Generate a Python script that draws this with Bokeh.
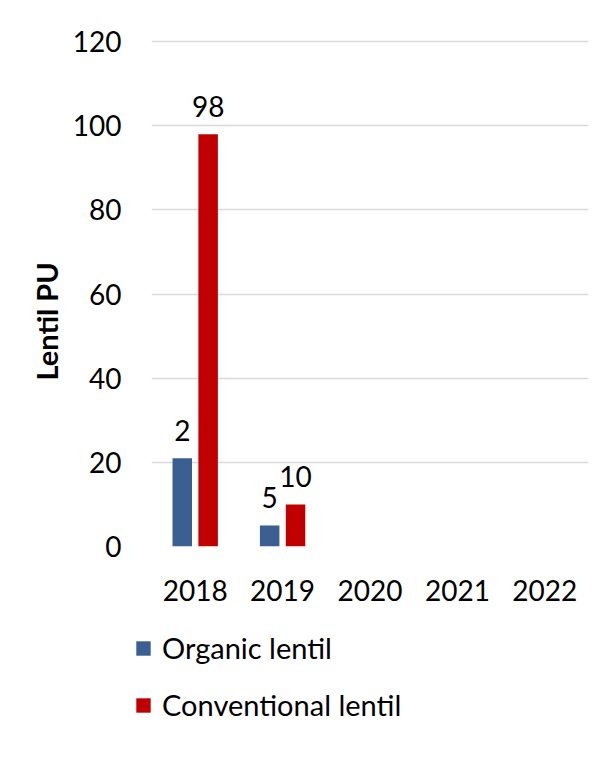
from bokeh.plotting import figure
from bokeh.models import ColumnDataSource, Legend, LegendItem, FactorRange, Title
from bokeh.layouts import column
from bokeh.transform import dodge
from bokeh.core.properties import value
from bokeh.embed import file_html
from bokeh.resources import INLINE

years = ["2018", "2019", "2020", "2021", "2022"]
organic = [21, 5, 0, 0, 0]
conventional = [98, 10, 0, 0, 0]
organic_labels = ["2", "5", "", "", ""]
conventional_labels = ["98", "10", "", "", ""]
series_names = ["Organic lentil", "Conventional lentil"]
y_ticks = [0, 20, 40, 60, 80, 100, 120]

BLUE = "#3A5F90"
RED = "#C00000"
FONT = "Lato"

src = ColumnDataSource(dict(years=years, organic=organic, conventional=conventional,
                            olab=organic_labels, clab=conventional_labels))

p = figure(x_range=FactorRange(*years), y_range=(0, 120.5), width=592, height=628,
           output_backend="svg", toolbar_location=None,
           min_border_left=151, min_border_right=4, min_border_top=39, min_border_bottom=82)
p.outline_line_color = None
p.background_fill_color = "white"
p.border_fill_color = "white"
p.frame_align = False

p.vbar(x=dodge("years", -0.148, range=p.x_range), top="organic", width=0.223,
       source=src, fill_color=BLUE, line_color=None)
p.vbar(x=dodge("years", 0.148, range=p.x_range), top="conventional", width=0.223,
       source=src, fill_color=RED, line_color=None)

p.text(x=dodge("years", -0.148, range=p.x_range), y="organic", text="olab", source=src,
       text_align="center", text_baseline="alphabetic", y_offset=-28,
       text_font=value(FONT), text_font_size="28px", text_color="black")
p.text(x=dodge("years", 0.148, range=p.x_range), y="conventional", text="clab", source=src,
       text_align="center", text_baseline="alphabetic", y_offset=-28,
       text_font=value(FONT), text_font_size="28px", text_color="black")

p.xgrid.grid_line_color = None
p.ygrid.grid_line_color = "#D9D9D9"
p.ygrid.grid_line_width = 1.5
p.yaxis.ticker = y_ticks

for ax in (p.xaxis[0], p.yaxis[0]):
    ax.axis_line_color = None
    ax.major_tick_line_color = None
    ax.minor_tick_line_color = None
    ax.major_tick_in = 0
    ax.major_tick_out = 0
    ax.major_label_text_font = FONT
    ax.major_label_text_font_size = "28px"
    ax.major_label_text_color = "black"

p.yaxis.major_label_standoff = 30
p.xaxis.major_label_standoff = 33

ytitle = Title(text="Lentil PU", align="left", offset=166, standoff=12,
               text_font=FONT, text_font_size="29px", text_font_style="bold",
               text_color="black")
p.add_layout(ytitle, "left")

# legend panel below the chart
lg = figure(x_range=FactorRange(*years), y_range=(1000, 1001), width=592, height=121,
            output_backend="svg", toolbar_location=None,
            x_axis_location=None, y_axis_location=None,
            min_border_left=0, min_border_right=0, min_border_top=0, min_border_bottom=0)
lg.outline_line_color = None
lg.xgrid.grid_line_color = None
lg.ygrid.grid_line_color = None
lg.frame_align = False
ob = lg.vbar(x="years", top="organic", width=0.2, source=src, fill_color=BLUE, line_color=None)
cb = lg.vbar(x="years", top="conventional", width=0.2, source=src, fill_color=RED, line_color=None)

legend = Legend(items=[LegendItem(label=series_names[0], renderers=[ob]),
                       LegendItem(label=series_names[1], renderers=[cb])],
                location=(134, 27), orientation="vertical",
                glyph_width=18, glyph_height=18, label_standoff=10, spacing=22,
                padding=0, margin=0, border_line_color=None, background_fill_alpha=0,
                label_text_font=FONT, label_text_font_size="29px", label_text_color="black")
lg.add_layout(legend, "center")

open("out.html", "w").write(file_html(column(p, lg, spacing=0), INLINE))
